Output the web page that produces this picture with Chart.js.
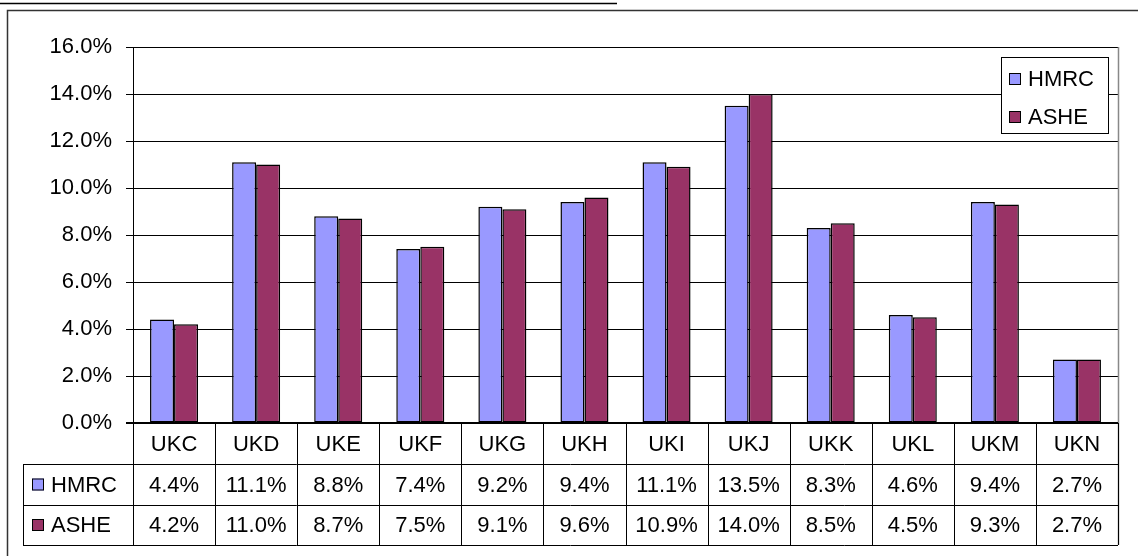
<!DOCTYPE html>
<html>
<head>
<meta charset="utf-8">
<script src="https://cdn.jsdelivr.net/npm/chart.js@4"></script>
<style>
  body { margin: 0; background: #fff; }
  #wrap { width: 1138px; height: 556px; }
</style>
</head>
<body>
<div id="wrap"><canvas id="grbarra" width="1138" height="556"></canvas></div>
<script>
// data
const regiones = ['UKC', 'UKD', 'UKE', 'UKF', 'UKG', 'UKH', 'UKI', 'UKJ', 'UKK', 'UKL', 'UKM', 'UKN'];
const hmrc = [4.4, 11.1, 8.8, 7.4, 9.2, 9.4, 11.1, 13.5, 8.3, 4.6, 9.4, 2.7];
const ashe = [4.2, 11.0, 8.7, 7.5, 9.1, 9.6, 10.9, 14.0, 8.5, 4.5, 9.3, 2.7];
const series = ['HMRC', 'ASHE'];
const colores = ['#9999FF', '#993366'];

const fuente = '22px "Liberation Sans", Arial, sans-serif';

// table under the plot, the legend box and the frame
const tablaPlugin = {
    id: 'tabla',
    afterDraw(chart) {
        const ctx = chart.ctx;
        const area = chart.chartArea;
        const x = chart.scales.x;
        const left = area.left, right = area.right;
        const ancho = (right - left) / regiones.length;
        const filas = [area.bottom, 464, 505, 545];
        const tablaLeft = 23;

        ctx.save();
        ctx.strokeStyle = '#000';
        ctx.lineWidth = 1.5;

        // title underline (cut off) and outer frame
        ctx.beginPath();
        ctx.moveTo(0, 3.5); ctx.lineTo(617, 3.5);
        ctx.stroke();
        ctx.strokeStyle = '#333';
        ctx.beginPath();
        ctx.moveTo(7.5, 560); ctx.lineTo(7.5, 10.5); ctx.lineTo(1140, 10.5);
        ctx.stroke();

        // plot right border
        ctx.strokeStyle = '#888';
        ctx.beginPath();
        ctx.moveTo(right + 0.5, area.top); ctx.lineTo(right + 0.5, filas[3]);
        ctx.stroke();

        // table grid
        ctx.strokeStyle = '#000';
        ctx.lineWidth = 1;
        ctx.beginPath();
        for (let i = 1; i < 4; i++) {
            ctx.moveTo(tablaLeft, filas[i] + 0.5);
            ctx.lineTo(right, filas[i] + 0.5);
        }
        ctx.moveTo(tablaLeft + 0.5, filas[1]); ctx.lineTo(tablaLeft + 0.5, filas[3]);
        for (let i = 0; i <= regiones.length; i++) {
            const px = Math.round(left + i * ancho) + 0.5;
            ctx.moveTo(px, filas[0]); ctx.lineTo(px, filas[3]);
        }
        ctx.stroke();

        // x axis line
        ctx.lineWidth = 2;
        ctx.beginPath();
        ctx.moveTo(left - 7, area.bottom); ctx.lineTo(right, area.bottom);
        ctx.stroke();

        ctx.font = fuente;
        ctx.fillStyle = '#000';
        ctx.textAlign = 'center';
        ctx.textBaseline = 'middle';
        regiones.forEach((r, i) => {
            const cx = x.getPixelForValue(i);
            ctx.fillText(r, cx, (filas[0] + filas[1]) / 2 + 1);
            ctx.fillText(hmrc[i].toFixed(1) + '%', cx, (filas[1] + filas[2]) / 2 + 1);
            ctx.fillText(ashe[i].toFixed(1) + '%', cx, (filas[2] + filas[3]) / 2 + 1);
        });

        // row keys of the table
        ctx.textAlign = 'left';
        series.forEach((s, i) => {
            const cy = (filas[i + 1] + filas[i + 2]) / 2;
            ctx.fillStyle = colores[i];
            ctx.fillRect(32, cy - 6, 12, 12);
            ctx.strokeStyle = '#000';
            ctx.lineWidth = 1;
            ctx.strokeRect(32.5, cy - 5.5, 11, 11);
            ctx.fillStyle = '#000';
            ctx.fillText(s, 51, cy + 1);
        });

        // legend box
        ctx.fillStyle = '#fff';
        ctx.fillRect(1001, 57, 108, 77);
        ctx.strokeStyle = '#000';
        ctx.strokeRect(1001.5, 57.5, 107, 76);
        series.forEach((s, i) => {
            const cy = 79 + i * 38;
            ctx.fillStyle = colores[i];
            ctx.fillRect(1009, cy - 6, 12, 12);
            ctx.strokeRect(1009.5, cy - 5.5, 11, 11);
            ctx.fillStyle = '#000';
            ctx.fillText(s, 1028, cy + 1);
        });
        ctx.restore();
    }
};

const barra = document.getElementById('grbarra');

new Chart(barra, {
    type: 'bar',
    data: {
        labels: regiones,
        datasets: [{
            label: series[0],
            data: hmrc,
            backgroundColor: colores[0],
            borderColor: '#000',
            borderWidth: 1.5,
            borderSkipped: false
        }, {
            label: series[1],
            data: ashe,
            backgroundColor: colores[1],
            borderColor: '#000',
            borderWidth: 1.5,
            borderSkipped: false
        }]
    },
    options: {
        responsive: false,
        animation: false,
        devicePixelRatio: 1,
        datasets: {
            bar: {
                categoryPercentage: 0.585,
                barPercentage: 1
            }
        },
        layout: {
            padding: { top: 47, right: 20, bottom: 133, left: 0 }
        },
        scales: {
            x: {
                display: false
            },
            y: {
                min: 0,
                max: 16,
                afterFit: (axis) => { axis.width = 133; },
                ticks: {
                    stepSize: 2,
                    color: '#000',
                    padding: 14,
                    font: { family: '"Liberation Sans", Arial, sans-serif', size: 22 },
                    callback: v => v.toFixed(1) + '%'
                },
                grid: {
                    color: '#000',
                    lineWidth: 1,
                    tickLength: 7
                },
                border: {
                    color: '#000',
                    width: 1
                }
            }
        },
        plugins: {
            legend: { display: false },
            tooltip: { enabled: false }
        }
    },
    plugins: [tablaPlugin]
});
</script>
</body>
</html>
